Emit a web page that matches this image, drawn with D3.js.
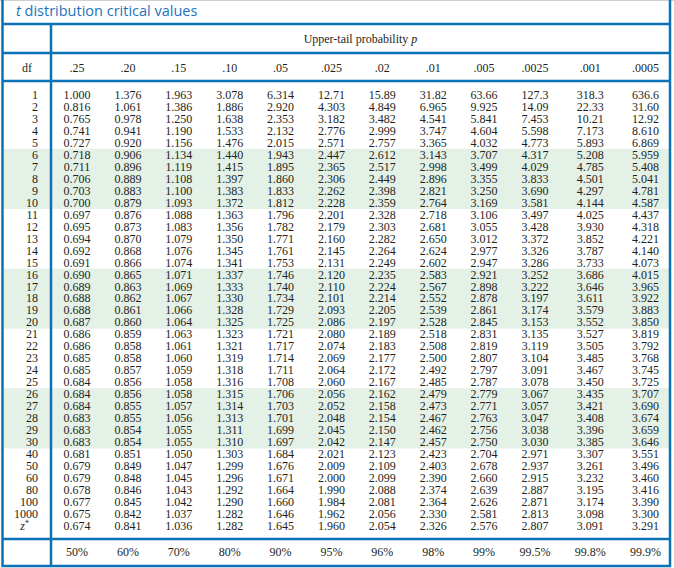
<!DOCTYPE html>
<html>
<head>
<meta charset="utf-8">
<script src="https://d3js.org/d3.v7.min.js"></script>
<style>
  body { margin: 0; background: #fff; }
  svg { display: block; }
  text.cell, text.cell tspan { font-family: "Liberation Serif", "DejaVu Serif", "Times New Roman", serif; font-size: 12px; fill: #231f20; }
  .title { font-family: "Open Sans", "Noto Sans", sans-serif; font-size: 14.5px; fill: #1c75bc; }
</style>
</head>
<body>
<svg id="table" width="674" height="568"></svg>
<script>
var dfLabels = ["1", "2", "3", "4", "5", "6", "7", "8", "9", "10",
  "11", "12", "13", "14", "15", "16", "17", "18", "19", "20",
  "21", "22", "23", "24", "25", "26", "27", "28", "29", "30",
  "40", "50", "60", "80", "100", "1000", "z*"];
var probLabels = [".25", ".20", ".15", ".10", ".05", ".025", ".02", ".01", ".005", ".0025", ".001", ".0005"];
var confLabels = ["50%", "60%", "70%", "80%", "90%", "95%", "96%", "98%", "99%", "99.5%", "99.8%", "99.9%"];

// one array per upper-tail probability, rows follow dfLabels
var p25 = [1.000, 0.816, 0.765, 0.741, 0.727, 0.718, 0.711, 0.706, 0.703, 0.700,
  0.697, 0.695, 0.694, 0.692, 0.691, 0.690, 0.689, 0.688, 0.688, 0.687,
  0.686, 0.686, 0.685, 0.685, 0.684, 0.684, 0.684, 0.683, 0.683, 0.683,
  0.681, 0.679, 0.679, 0.678, 0.677, 0.675, 0.674];
var p20 = [1.376, 1.061, 0.978, 0.941, 0.920, 0.906, 0.896, 0.889, 0.883, 0.879,
  0.876, 0.873, 0.870, 0.868, 0.866, 0.865, 0.863, 0.862, 0.861, 0.860,
  0.859, 0.858, 0.858, 0.857, 0.856, 0.856, 0.855, 0.855, 0.854, 0.854,
  0.851, 0.849, 0.848, 0.846, 0.845, 0.842, 0.841];
var p15 = [1.963, 1.386, 1.250, 1.190, 1.156, 1.134, 1.119, 1.108, 1.100, 1.093,
  1.088, 1.083, 1.079, 1.076, 1.074, 1.071, 1.069, 1.067, 1.066, 1.064,
  1.063, 1.061, 1.060, 1.059, 1.058, 1.058, 1.057, 1.056, 1.055, 1.055,
  1.050, 1.047, 1.045, 1.043, 1.042, 1.037, 1.036];
var p10 = [3.078, 1.886, 1.638, 1.533, 1.476, 1.440, 1.415, 1.397, 1.383, 1.372,
  1.363, 1.356, 1.350, 1.345, 1.341, 1.337, 1.333, 1.330, 1.328, 1.325,
  1.323, 1.321, 1.319, 1.318, 1.316, 1.315, 1.314, 1.313, 1.311, 1.310,
  1.303, 1.299, 1.296, 1.292, 1.290, 1.282, 1.282];
var p05 = [6.314, 2.920, 2.353, 2.132, 2.015, 1.943, 1.895, 1.860, 1.833, 1.812,
  1.796, 1.782, 1.771, 1.761, 1.753, 1.746, 1.740, 1.734, 1.729, 1.725,
  1.721, 1.717, 1.714, 1.711, 1.708, 1.706, 1.703, 1.701, 1.699, 1.697,
  1.684, 1.676, 1.671, 1.664, 1.660, 1.646, 1.645];
var p025 = [12.71, 4.303, 3.182, 2.776, 2.571, 2.447, 2.365, 2.306, 2.262, 2.228,
  2.201, 2.179, 2.160, 2.145, 2.131, 2.120, 2.110, 2.101, 2.093, 2.086,
  2.080, 2.074, 2.069, 2.064, 2.060, 2.056, 2.052, 2.048, 2.045, 2.042,
  2.021, 2.009, 2.000, 1.990, 1.984, 1.962, 1.960];
var p02 = [15.89, 4.849, 3.482, 2.999, 2.757, 2.612, 2.517, 2.449, 2.398, 2.359,
  2.328, 2.303, 2.282, 2.264, 2.249, 2.235, 2.224, 2.214, 2.205, 2.197,
  2.189, 2.183, 2.177, 2.172, 2.167, 2.162, 2.158, 2.154, 2.150, 2.147,
  2.123, 2.109, 2.099, 2.088, 2.081, 2.056, 2.054];
var p01 = [31.82, 6.965, 4.541, 3.747, 3.365, 3.143, 2.998, 2.896, 2.821, 2.764,
  2.718, 2.681, 2.650, 2.624, 2.602, 2.583, 2.567, 2.552, 2.539, 2.528,
  2.518, 2.508, 2.500, 2.492, 2.485, 2.479, 2.473, 2.467, 2.462, 2.457,
  2.423, 2.403, 2.390, 2.374, 2.364, 2.330, 2.326];
var p005 = [63.66, 9.925, 5.841, 4.604, 4.032, 3.707, 3.499, 3.355, 3.250, 3.169,
  3.106, 3.055, 3.012, 2.977, 2.947, 2.921, 2.898, 2.878, 2.861, 2.845,
  2.831, 2.819, 2.807, 2.797, 2.787, 2.779, 2.771, 2.763, 2.756, 2.750,
  2.704, 2.678, 2.660, 2.639, 2.626, 2.581, 2.576];
var p0025 = [127.3, 14.09, 7.453, 5.598, 4.773, 4.317, 4.029, 3.833, 3.690, 3.581,
  3.497, 3.428, 3.372, 3.326, 3.286, 3.252, 3.222, 3.197, 3.174, 3.153,
  3.135, 3.119, 3.104, 3.091, 3.078, 3.067, 3.057, 3.047, 3.038, 3.030,
  2.971, 2.937, 2.915, 2.887, 2.871, 2.813, 2.807];
var p001 = [318.3, 22.33, 10.21, 7.173, 5.893, 5.208, 4.785, 4.501, 4.297, 4.144,
  4.025, 3.930, 3.852, 3.787, 3.733, 3.686, 3.646, 3.611, 3.579, 3.552,
  3.527, 3.505, 3.485, 3.467, 3.450, 3.435, 3.421, 3.408, 3.396, 3.385,
  3.307, 3.261, 3.232, 3.195, 3.174, 3.098, 3.091];
var p0005 = [636.6, 31.60, 12.92, 8.610, 6.869, 5.959, 5.408, 5.041, 4.781, 4.587,
  4.437, 4.318, 4.221, 4.140, 4.073, 4.015, 3.965, 3.922, 3.883, 3.850,
  3.819, 3.792, 3.768, 3.745, 3.725, 3.707, 3.690, 3.674, 3.659, 3.646,
  3.551, 3.496, 3.460, 3.416, 3.390, 3.300, 3.291];

(function TTable() {
  /* global d3 */
  var svg = d3.select("#table"),
    blue = "#0b72b6",
    serif = "'Liberation Serif', 'DejaVu Serif', 'Times New Roman', serif",
    left = 2.5, right = 670, top = 24, bottom = 566,
    colDivider = 51,
    headLine = 53, dfLine = 81, footLine = 539,
    rowTop = 89, rowStep = 11.97;

  var columns = [p25, p20, p15, p10, p05, p025, p02, p01, p005, p0025, p001, p0005];

  // column centres drift a little wider on the right, so a piecewise scale
  var x = d3.scaleLinear()
    .domain([0, 9, 11])
    .range([77, 535, 645.5]);

  var y = d3.scaleBand()
    .domain(dfLabels)
    .range([rowTop, rowTop + rowStep * dfLabels.length]);

  function fmt(v) {
    return v < 1 ? v.toFixed(3) : v.toPrecision(4);
  }

  function cell(sel) {
    sel.attr("class", "cell")
      .attr("font-family", serif)
      .attr("font-size", 12)
      .attr("fill", "#231f20");
  }

  // shaded bands: df 6-10, 16-20, 26-30
  svg.append("g")
    .selectAll("rect")
    .data(dfLabels.filter(function (d, i) { return i < 30 && Math.floor(i / 5) % 2 === 1; }))
    .enter().append("rect")
      .attr("x", left + 1)
      .attr("y", function (d) { return y(d); })
      .attr("width", right - left - 2)
      .attr("height", y.bandwidth() + 0.3)
      .attr("fill", "#e4f1e7");

  svg.append("line")
    .attr("x1", 0).attr("x2", 674)
    .attr("y1", 0.5).attr("y2", 0.5)
    .attr("stroke", "#cfcfcf");

  svg.append("text")
    .attr("class", "title")
    .attr("x", 16)
    .attr("y", 16)
    .call(function (t) {
      t.append("tspan").attr("font-style", "italic").text("t");
      t.append("tspan").text(" distribution critical values");
    });

  // rules
  var rules = svg.append("g")
    .attr("stroke", blue)
    .attr("stroke-width", 2.5)
    .attr("fill", "none");
  rules.append("path")
    .attr("d", d3.line()([[left, 0], [left, bottom], [right, bottom], [right, 0]]));
  [top, headLine, dfLine, footLine].forEach(function (yy) {
    rules.append("path").attr("d", d3.line()([[left, yy], [right, yy]]));
  });
  rules.append("path")
    .attr("d", d3.line()([[colDivider, top], [colDivider, bottom]]));

  svg.append("text")
    .call(cell)
    .attr("x", (colDivider + right) / 2)
    .attr("y", 43)
    .attr("text-anchor", "middle")
    .attr("font-size", 11)
    .style("font-size", "11px")
    .call(function (t) {
      t.append("tspan").text("Upper-tail probability ");
      t.append("tspan").attr("font-style", "italic").text("p");
    });

  svg.append("text")
    .call(cell)
    .attr("x", 27)
    .attr("y", 71.5)
    .attr("text-anchor", "middle")
    .text("df");

  svg.append("g")
    .selectAll("text")
    .data(probLabels)
    .enter().append("text")
      .call(cell)
      .attr("x", function (d, i) { return x(i); })
      .attr("y", 71.5)
      .attr("text-anchor", "middle")
      .text(function (d) { return d; });

  // df labels
  var dfText = svg.append("g")
    .selectAll("text")
    .data(dfLabels)
    .enter().append("text")
      .call(cell)
      .attr("x", function (d) { return d === "z*" ? 29 : 38; })
      .attr("y", function (d) { return y(d) + y.bandwidth() / 2 + 4; })
      .attr("text-anchor", "end");
  dfText.filter(function (d) { return d !== "z*"; })
    .text(function (d) { return d; });
  dfText.filter(function (d) { return d === "z*"; })
    .call(function (t) {
      t.append("tspan").attr("font-style", "italic").text("z");
      t.append("tspan").attr("dy", -4).style("font-size", "8px").text("*");
    });

  // table body
  var cols = svg.append("g")
    .selectAll("g")
    .data(columns)
    .enter().append("g")
      .attr("transform", function (d, i) { return "translate(" + x(i) + ",0)"; });

  cols.selectAll("text")
    .data(function (d) { return d; })
    .enter().append("text")
      .call(cell)
      .attr("y", function (d, i) { return y(dfLabels[i]) + y.bandwidth() / 2 + 4; })
      .attr("text-anchor", "middle")
      .text(fmt);

  svg.append("g")
    .selectAll("text")
    .data(confLabels)
    .enter().append("text")
      .call(cell)
      .attr("x", function (d, i) { return x(i); })
      .attr("y", 556)
      .attr("text-anchor", "middle")
      .text(function (d) { return d; });
})();
</script>
</body>
</html>
